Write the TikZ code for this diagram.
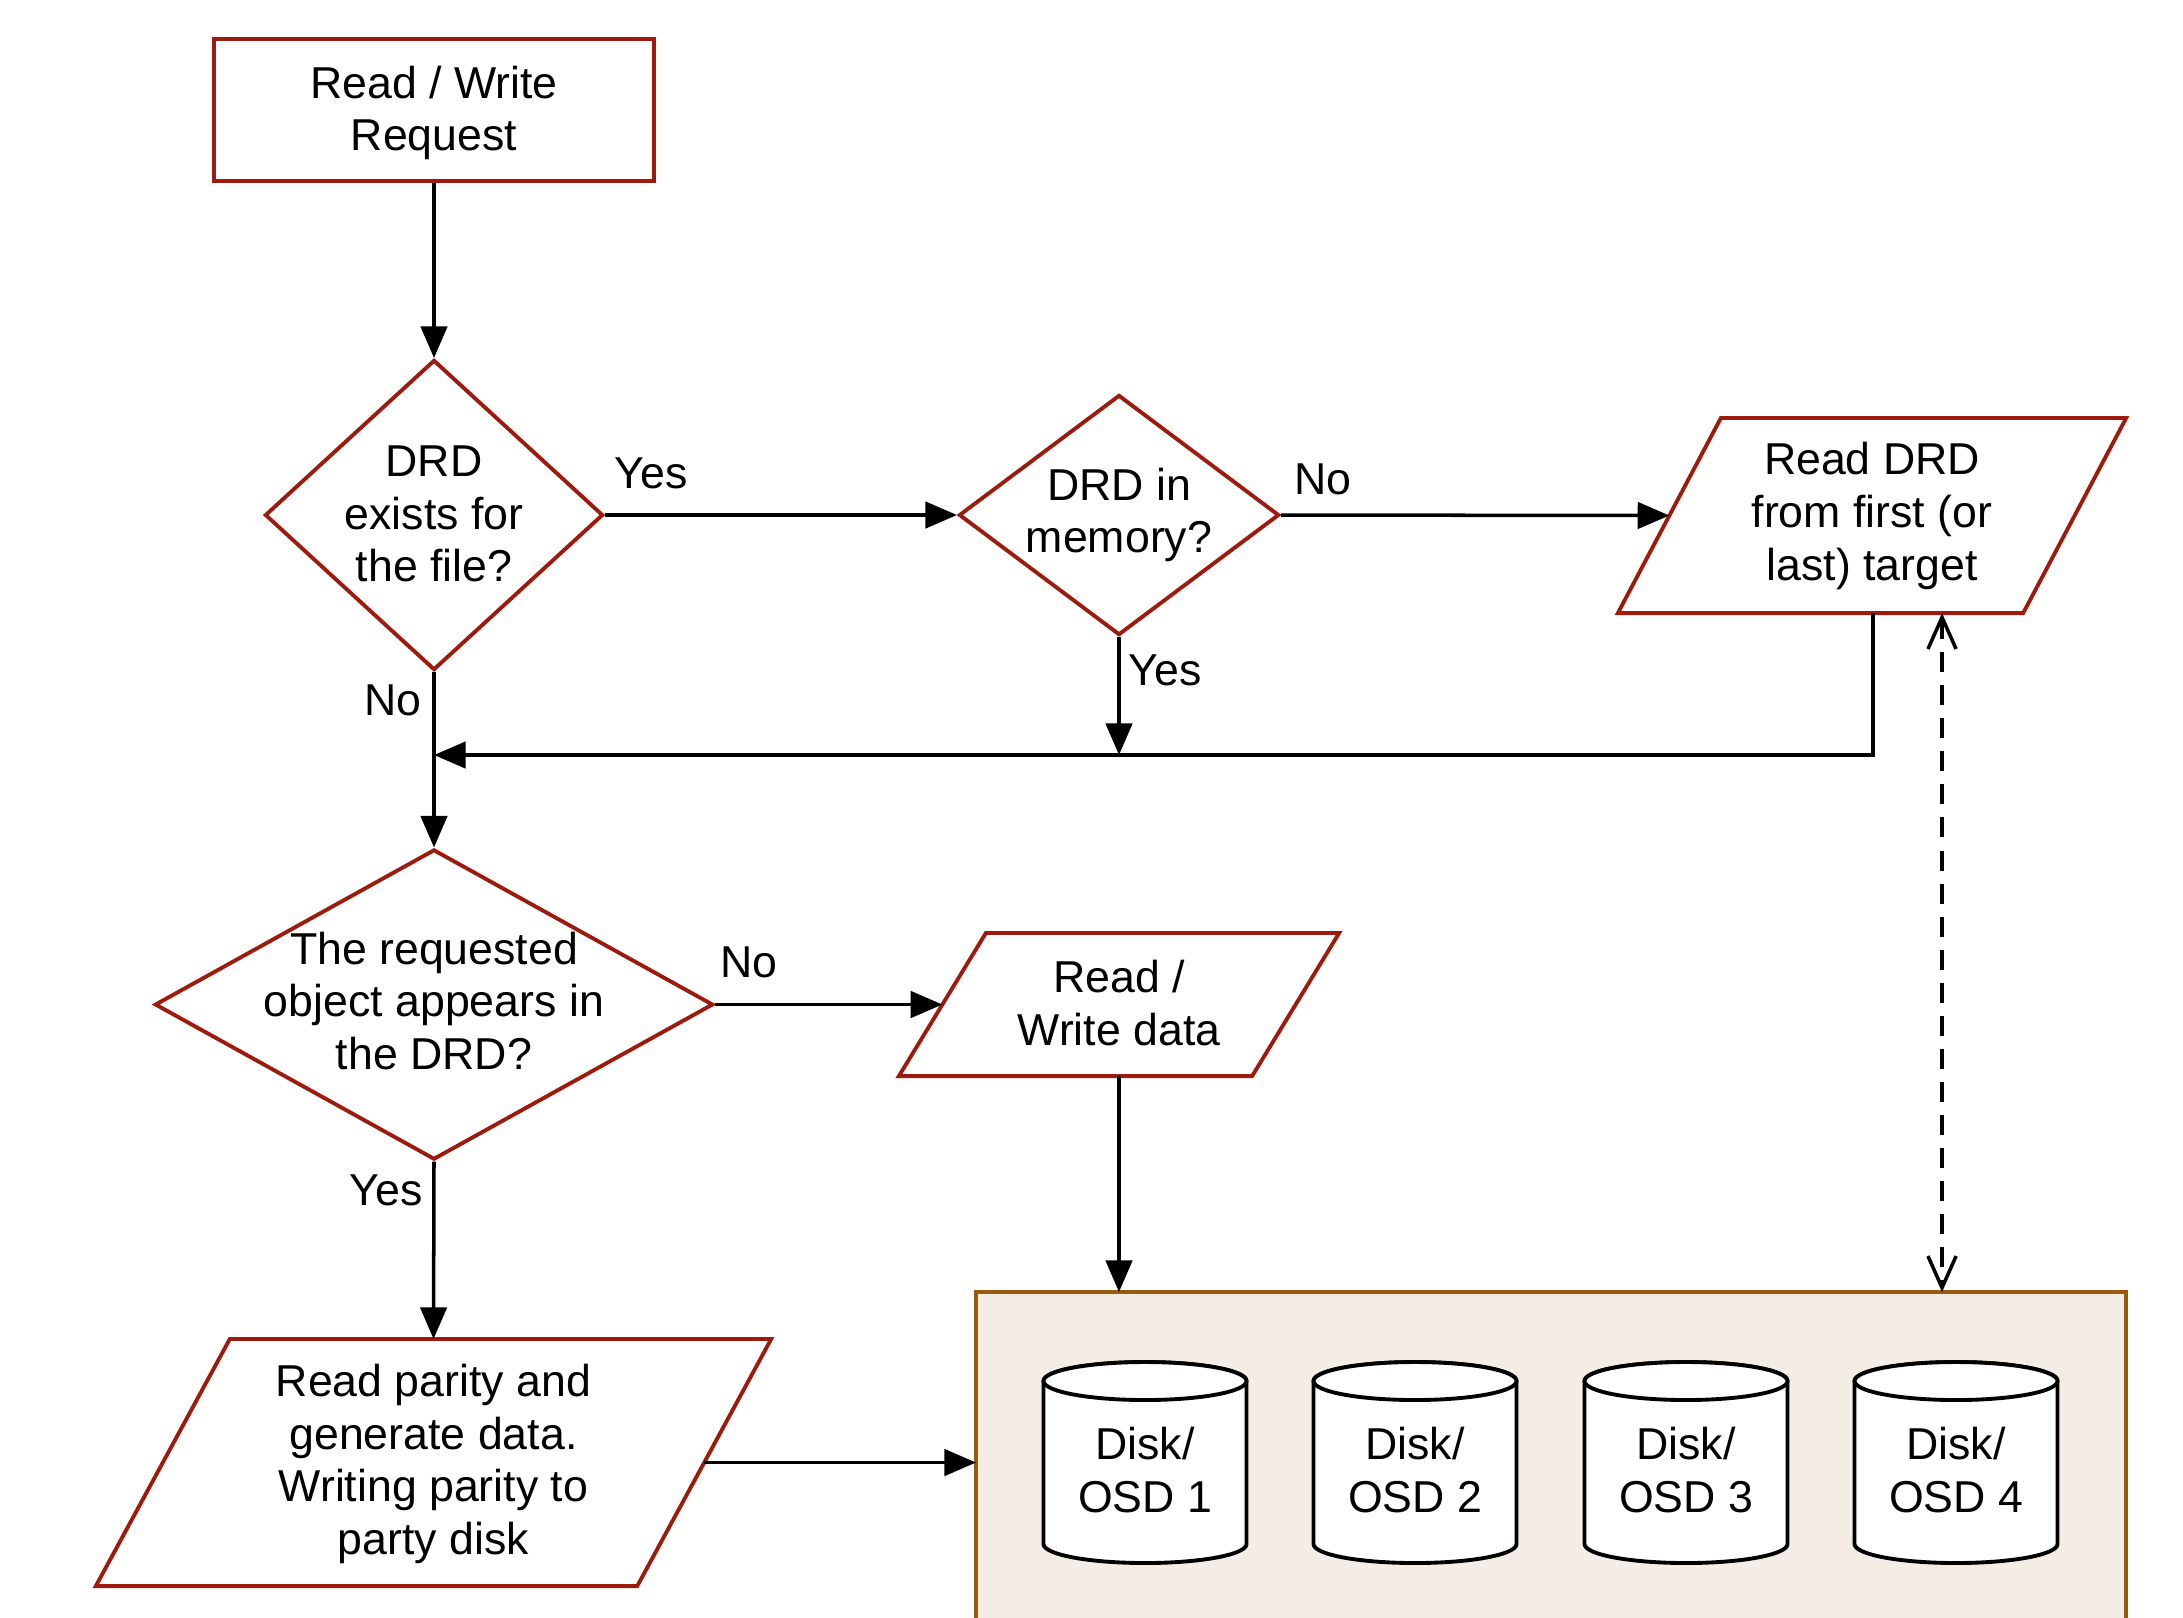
\documentclass[tikz,border=0pt]{standalone}
\usepackage{fontspec}
\setmainfont{Liberation Sans}
\usetikzlibrary{shapes.geometric,arrows.meta,calc}
\definecolor{shapered}{HTML}{9E1A0C}
\definecolor{boxbrown}{HTML}{9A5A0E}
\definecolor{boxfill}{HTML}{F4EDE6}
\tikzset{
  shp/.style={draw=shapered,line width=1.1pt,fill=white},
  txt/.style={align=center,font=\fontsize{12.7}{15}\selectfont,inner sep=0pt},
  lbl/.style={font=\fontsize{12.7}{15}\selectfont,inner sep=0pt},
  flow/.style={draw=black,line width=1pt,-{Triangle[length=9pt,width=7.5pt]}},
  ghost/.style={inner sep=0pt,outer sep=0pt},
  cylline/.style={draw=black,line width=1.1pt,fill=white}
}
\begin{document}
\begin{tikzpicture}[x=0.01cm,y=-0.01cm]
\useasboundingbox (0,0) rectangle (2183,1617);

% container
\node[ghost,minimum width=11.5cm,minimum height=4.8cm,anchor=north west] (store) at (976,1292) {};
\fill[boxfill] (976,1292) rectangle (2126,1660);
\draw[boxbrown,line width=1.1pt] (976,1660) -- (976,1292) -- (2126,1292) -- (2126,1660);

% cylinders
\foreach \i/\cx in {1/1145,2/1415,3/1686,4/1956}{
  \path[cylline] (\cx-101.5,1381) -- (\cx-101.5,1544) arc (180:0:101.5 and 19) -- (\cx+101.5,1381) arc (0:-180:101.5 and 19) -- cycle;
  \draw[cylline] (\cx,1381) ellipse (101.5 and 19);
  \node[txt] (disk\i) at (\cx,1470) {Disk/\\OSD \i};
}

% top request box
\node[shp,rectangle,minimum width=4.4cm,minimum height=1.42cm] (rw) at (434,110) {};
\node[txt] at (434,113) {Read / Write\\Request};

% diamond 1
\node[shp,diamond,inner sep=0pt,minimum width=3.38cm,minimum height=3.1cm] (d1) at (434,515) {};
\node[txt] at (434,514) {DRD\\exists for\\the file?};

% diamond 2
\node[shp,diamond,inner sep=0pt,minimum width=3.2cm,minimum height=2.4cm] (d2) at (1119,515) {};
\node[txt] at (1119,515) {DRD in\\memory?};

% parallelogram 1
\node[ghost,minimum width=5.08cm,minimum height=1.95cm] (p1) at (1872,515.5) {};
\draw[shp] ($(p1.north west)+(103,0)$) -- (p1.north east) -- ($(p1.south east)+(-103,0)$) -- (p1.south west) -- cycle;
\node[txt] at (1872,516) {Read DRD\\from first (or\\last) target};

% diamond 3
\node[shp,diamond,inner sep=0pt,minimum width=5.58cm,minimum height=3.1cm] (d3) at (434,1004.5) {};
\node[txt] at (434,1001) {The requested\\object appears in\\the DRD?};

% parallelogram 2
\node[ghost,minimum width=4.4cm,minimum height=1.43cm] (p2) at (1119,1004.5) {};
\draw[shp] ($(p2.north west)+(87,0)$) -- (p2.north east) -- ($(p2.south east)+(-87,0)$) -- (p2.south west) -- cycle;
\node[txt] at (1119,1003) {Read /\\Write data};

% parallelogram 3
\node[ghost,minimum width=6.75cm,minimum height=2.47cm] (p3) at (433.5,1462.5) {};
\draw[shp] ($(p3.north west)+(134,0)$) -- (p3.north east) -- ($(p3.south east)+(-134,0)$) -- (p3.south west) -- cycle;
\node[txt] at (433.5,1464) {Read parity and\\generate data.\\Writing parity to\\party disk};

% junction points
\coordinate (p1in) at ($(p1.west)+(51.5,0)$);
\coordinate (p2in) at ($(p2.west)+(43.5,0)$);
\coordinate (p3out) at ($(p3.east)+(-67,0)$);
\coordinate (p1b) at (1873,613);
\coordinate (p1c) at (1873,755);
\coordinate (merge) at (434,755);
\coordinate (d2m) at (1119,755);
\coordinate (dashtop) at (1942,613);
\coordinate (dashbot) at (1942,1292);
\coordinate (p2b) at (1119,1076);
\coordinate (stor1) at (1119,1292);
\coordinate (storl) at (976,1462.5);

% connectors
\draw[flow] (rw.south) -- (d1.north);
\draw[flow] (d1.east) -- (d2.west);
\draw[flow] (d2.east) -- (p1in);
\draw[flow] (d2.south) -- (d2m);
\draw[flow] (p1b) -- (p1c) -- (merge);
\draw[line width=1pt] (d1.south) -- (merge);
\draw[flow] (merge) -- (d3.north);
\draw[flow] (d3.east) -- (p2in);
\draw[flow] (p2b) -- (stor1);
\draw[flow] (d3.south) -- (p3.north);
\draw[flow] (p3out) -- (storl);
\draw[line width=1pt,dash pattern=on 5.7pt off 3.7pt,{Straight Barb[length=9pt,width=8pt]}-{Straight Barb[length=9pt,width=8pt]}] (dashtop) -- (dashbot);

% labels
\node[lbl] at (651,473) {Yes};
\node[lbl] at (1323,479) {No};
\node[lbl] at (1165,670) {Yes};
\node[lbl] at (393,700) {No};
\node[lbl] at (749,962) {No};
\node[lbl] at (386,1190) {Yes};
\end{tikzpicture}
\end{document}
